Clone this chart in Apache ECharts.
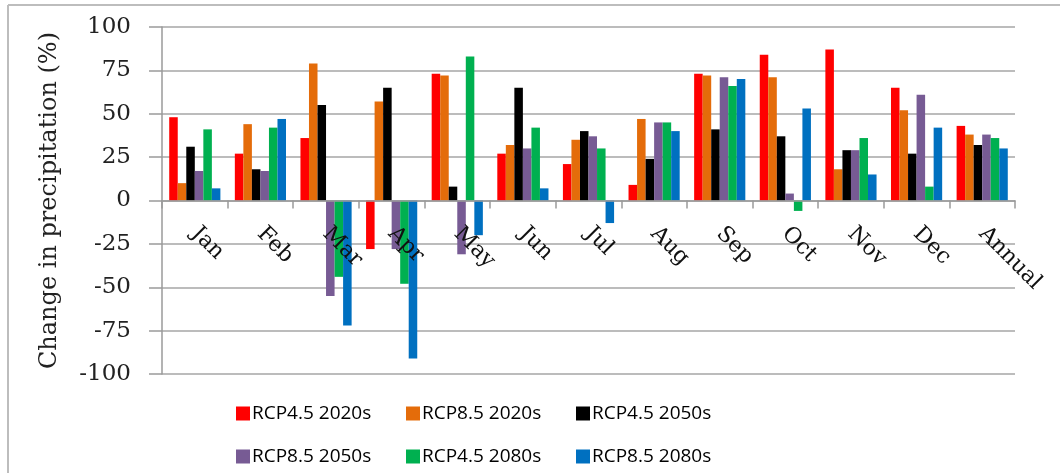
<!DOCTYPE html>
<html>
<head>
<meta charset="utf-8">
<script src="https://cdn.jsdelivr.net/npm/echarts@6/dist/echarts.min.js"></script>
<style>
html,body{margin:0;padding:0;background:#fff;}
#chart{width:1060px;height:473px;}
</style>
</head>
<body>
<div id="chart"></div>
<script>
const categories = ['Jan','Feb','Mar','Apr','May','Jun','Jul','Aug','Sep','Oct','Nov','Dec','Annual'];
const seriesNames = ['RCP4.5 2020s','RCP8.5 2020s','RCP4.5 2050s','RCP8.5 2050s','RCP4.5 2080s','RCP8.5 2080s'];
const rcp45_2020s = [48, 27, 36, -28, 73, 27, 21, 9, 73, 84, 87, 65, 43];
const rcp85_2020s = [10, 44, 79, 57, 72, 32, 35, 47, 72, 71, 18, 52, 38];
const rcp45_2050s = [31, 18, 55, 65, 8, 65, 40, 24, 41, 37, 29, 27, 32];
const rcp85_2050s = [17, 17, -55, -28, -31, 30, 37, 45, 71, 4, 29, 61, 38];
const rcp45_2080s = [41, 42, -44, -48, 83, 42, 30, 45, 66, -6, 36, 8, 36];
const rcp85_2080s = [7, 47, -72, -91, -20, 7, -13, 40, 70, 53, 15, 42, 30];
const yTicks = {min: -100, max: 100, step: 25};

const seriesData = [rcp45_2020s, rcp85_2020s, rcp45_2050s, rcp85_2050s, rcp45_2080s, rcp85_2080s];
const colors = ['#ff0000', '#e46c0a', '#000000', '#775b94', '#00b050', '#0070c0'];

const chart = echarts.init(document.getElementById('chart'));

const gridTop = 27, gridBottom = 99, H = 473;
const plotH = H - gridTop - gridBottom;
const zeroOffset = -plotH * (0 - yTicks.min) / (yTicks.max - yTicks.min);

const legendLefts = [236, 406, 576];
const legendTops = [404, 447];
const legends = seriesNames.map((n, i) => ({
  data: [n],
  left: legendLefts[i % 3],
  top: legendTops[Math.floor(i / 3)],
  padding: 0,
  itemWidth: 14,
  itemHeight: 14,
  itemGap: 0,
  icon: 'rect',
  textStyle: {fontFamily: 'Open Sans', fontSize: 19, color: '#000', padding: [0, 0, 0, -3]}
}));

chart.setOption({
  animation: false,
  color: colors,
  grid: {left: 162, right: 45, top: gridTop, bottom: gridBottom, containLabel: false},
  legend: legends,
  graphic: [
    {type: 'line', shape: {x1: 8, y1: 5, x2: 1060, y2: 5}, style: {stroke: '#bdbdbd', lineWidth: 2}},
    {type: 'line', shape: {x1: 8, y1: 5, x2: 8, y2: 473}, style: {stroke: '#bdbdbd', lineWidth: 2}}
  ],
  xAxis: {
    type: 'category',
    data: categories,
    position: 'bottom',
    offset: zeroOffset,
    z: 5,
    axisLine: {onZero: false, lineStyle: {color: '#9a9a9a', width: 1.5}},
    axisTick: {show: true, length: 8, lineStyle: {color: '#9a9a9a', width: 1.5}},
    axisLabel: {rotate: -45, margin: 30, fontFamily: 'DejaVu Serif', fontSize: 22, color: '#111'},
    splitLine: {show: false}
  },
  yAxis: {
    type: 'value',
    min: yTicks.min,
    max: yTicks.max,
    interval: yTicks.step,
    name: 'Change in precipitation (%)',
    nameLocation: 'middle',
    nameGap: 100,
    nameTextStyle: {fontFamily: 'DejaVu Serif', fontSize: 24, color: '#222'},
    axisLine: {show: true, lineStyle: {color: '#9a9a9a', width: 1.5}},
    axisTick: {show: true, length: 13, lineStyle: {color: '#9a9a9a', width: 1.5}},
    axisLabel: {margin: 31, fontFamily: 'DejaVu Serif', fontSize: 23, color: '#222'},
    splitLine: {show: true, lineStyle: {color: '#a6a6a6', width: 1.5}}
  },
  series: seriesNames.map((n, i) => ({
    name: n,
    type: 'bar',
    data: seriesData[i],
    barGap: '0%',
    barCategoryGap: '22%',
    itemStyle: {color: colors[i]}
  }))
});
</script>
</body>
</html>
